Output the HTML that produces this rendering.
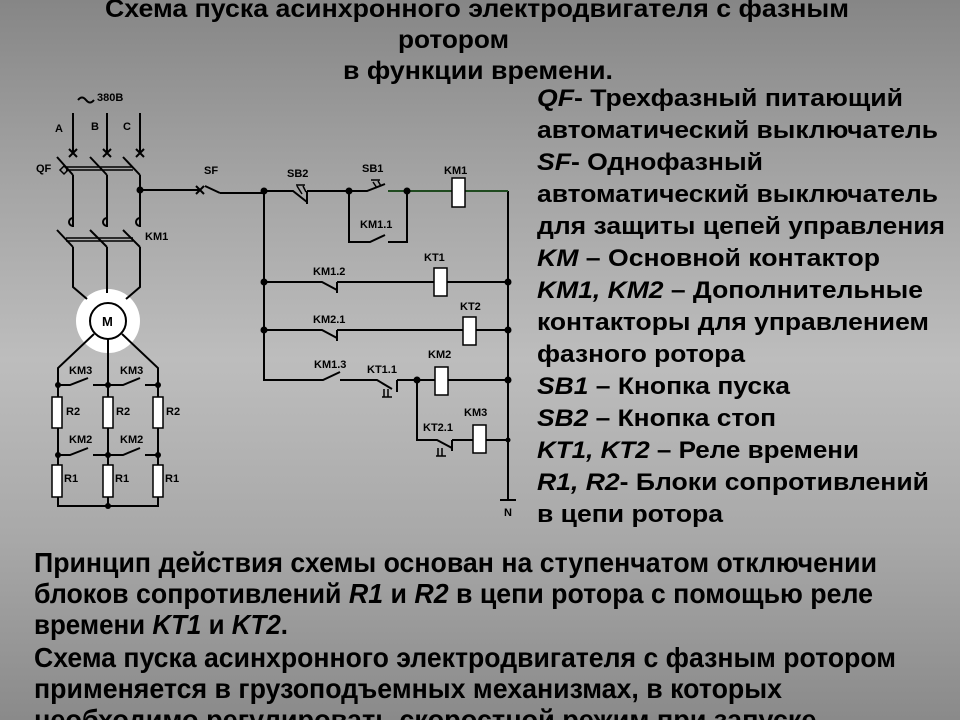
<!DOCTYPE html>
<html><head><meta charset="utf-8"><style>
html,body{margin:0;padding:0;width:960px;height:720px;overflow:hidden}
body{background:linear-gradient(to bottom,#868686 0%,#a4a4a4 25%,#bdbdbd 50%,#a8a8a8 75%,#8a8a8a 100%)}
svg{display:block}
.t{font-family:"Liberation Sans",sans-serif;font-weight:bold;fill:#000}
.s{font-family:"Liberation Sans",sans-serif;font-weight:bold;font-size:11px;fill:#000}
</style></head><body>
<svg width="960" height="720" viewBox="0 0 960 720" xmlns="http://www.w3.org/2000/svg">
<g class="t" font-size="25">
<text x="105" y="17" textLength="744" lengthAdjust="spacingAndGlyphs">Схема пуска асинхронного электродвигателя с фазным</text>
<text x="398" y="48" textLength="111" lengthAdjust="spacingAndGlyphs">ротором</text>
<text x="343" y="79" textLength="270" lengthAdjust="spacingAndGlyphs">в функции времени.</text>
</g>
<g class="t" font-size="24">
<text x="537" y="106" textLength="366" lengthAdjust="spacingAndGlyphs"><tspan font-style="italic">QF</tspan>- Трехфазный питающий</text>
<text x="537" y="138" textLength="401" lengthAdjust="spacingAndGlyphs">автоматический выключатель</text>
<text x="537" y="170" textLength="226" lengthAdjust="spacingAndGlyphs"><tspan font-style="italic">SF</tspan>- Однофазный</text>
<text x="537" y="202" textLength="401" lengthAdjust="spacingAndGlyphs">автоматический выключатель</text>
<text x="537" y="234" textLength="408" lengthAdjust="spacingAndGlyphs">для защиты цепей управления</text>
<text x="537" y="266" textLength="343" lengthAdjust="spacingAndGlyphs"><tspan font-style="italic">KM</tspan> – Основной контактор</text>
<text x="537" y="298" textLength="386" lengthAdjust="spacingAndGlyphs"><tspan font-style="italic">KM1, KM2</tspan> – Дополнительные</text>
<text x="537" y="330" textLength="392" lengthAdjust="spacingAndGlyphs">контакторы для управлением</text>
<text x="537" y="362" textLength="208" lengthAdjust="spacingAndGlyphs">фазного ротора</text>
<text x="537" y="394" textLength="253" lengthAdjust="spacingAndGlyphs"><tspan font-style="italic">SB1</tspan> – Кнопка пуска</text>
<text x="537" y="426" textLength="239" lengthAdjust="spacingAndGlyphs"><tspan font-style="italic">SB2</tspan> – Кнопка стоп</text>
<text x="537" y="458" textLength="322" lengthAdjust="spacingAndGlyphs"><tspan font-style="italic">KT1, KT2</tspan> – Реле времени</text>
<text x="537" y="490" textLength="392" lengthAdjust="spacingAndGlyphs"><tspan font-style="italic">R1, R2</tspan>- Блоки сопротивлений</text>
<text x="537" y="522" textLength="186" lengthAdjust="spacingAndGlyphs">в цепи ротора</text>
</g>
<g class="t" font-size="28">
<text x="34" y="572" textLength="843" lengthAdjust="spacingAndGlyphs">Принцип действия схемы основан на ступенчатом отключении</text>
<text x="34" y="603" textLength="839" lengthAdjust="spacingAndGlyphs">блоков сопротивлений <tspan font-style="italic">R1</tspan> и <tspan font-style="italic">R2</tspan> в цепи ротора с помощью реле</text>
<text x="34" y="634" textLength="254" lengthAdjust="spacingAndGlyphs">времени <tspan font-style="italic">KT1</tspan> и <tspan font-style="italic">KT2</tspan>.</text>
<text x="34" y="667" textLength="862" lengthAdjust="spacingAndGlyphs">Схема пуска асинхронного электродвигателя с фазным ротором</text>
<text x="34" y="698" textLength="748" lengthAdjust="spacingAndGlyphs">применяется в грузоподъемных механизмах, в которых</text>
<text x="34" y="729" textLength="790" lengthAdjust="spacingAndGlyphs">необходимо регулировать скоростной режим при запуске.</text>
</g>

<circle cx="108" cy="321" r="32" fill="#fff"/>
<g stroke="#000" stroke-width="2" fill="none">
<path d="M73 113V153M107 113V153M140 113V153"/>
<path d="M69 149l8 8M77 149l-8 8M103 149l8 8M111 149l-8 8M136 149l8 8M144 149l-8 8"/>
<path d="M57 157L73 175M90 157L107 175M123 157L140 175"/>
<path d="M66 167H133M66 170H133" stroke-width="1.5"/>
<path d="M73 175V227M107 175V227M140 175V227"/>
<path d="M73 218a4 4 0 0 0 0 8M107 218a4 4 0 0 0 0 8M140 218a4 4 0 0 0 0 8"/>
<path d="M57 230L73 247M90 230L107 247M123 230L140 247"/>
<path d="M66 238H133M66 241H133" stroke-width="1.5"/>
<path d="M73 247V287L87 299M107 247V293M140 247V287L126 299"/>
<path d="M140 190H200M196 186l8 8M204 186l-8 8M205 186L220 193M220 193H264"/>
<path d="M94 334L58 368V506H158V368L122 334M108 339V506"/>
<path d="M58 385H70L88 378M93 385H123L140 378M145 385H158"/>
<path d="M58 455H70L88 448M93 455H123L140 448M145 455H158"/>
</g>
<path d="M60 170l4-4 4 4-4 4z" fill="none" stroke="#000" stroke-width="1.5"/>
<path d="M78 100q4-5 8 0t8 0" fill="none" stroke="#000" stroke-width="2"/>
<g fill="#fff" stroke="#000" stroke-width="1.5">
<circle cx="108" cy="321" r="18" stroke-width="2"/>
<rect x="52" y="397" width="10" height="31"/><rect x="103" y="397" width="10" height="31"/><rect x="153" y="397" width="10" height="31"/>
<rect x="52" y="465" width="10" height="32"/><rect x="103" y="465" width="10" height="32"/><rect x="153" y="465" width="10" height="32"/>
</g>
<g fill="#000">
<circle cx="140" cy="190" r="3.5"/>
<circle cx="58" cy="385" r="3"/><circle cx="108" cy="385" r="3"/><circle cx="158" cy="385" r="3"/>
<circle cx="58" cy="455" r="3"/><circle cx="108" cy="455" r="3"/><circle cx="158" cy="455" r="3"/>
<circle cx="108" cy="506" r="3"/>
</g>
<g class="s">
<text x="97" y="101">380B</text>
<text x="55" y="132">A</text><text x="91" y="130">B</text><text x="123" y="130">C</text>
<text x="36" y="172">QF</text><text x="145" y="240">KM1</text>
<text x="102" y="326" font-size="13">M</text>
<text x="69" y="374">KM3</text><text x="120" y="374">KM3</text>
<text x="66" y="415">R2</text><text x="116" y="415">R2</text><text x="166" y="415">R2</text>
<text x="69" y="443">KM2</text><text x="120" y="443">KM2</text>
<text x="64" y="482">R1</text><text x="115" y="482">R1</text><text x="165" y="482">R1</text>
<text x="204" y="174">SF</text>
</g>

<g stroke="#000" stroke-width="2" fill="none">
<path d="M264 191H293L307 202M307 191V204M307 191H367L385 184"/>
<path d="M297 186L302 194M303 186L306 192M296 185H305" stroke-width="1.5"/>
<path d="M373 182L377 188M378 181L381 186M371 180H380" stroke-width="1.5"/>
<path d="M508 191V500M500 500H516"/>
<path d="M349 191V242H370L385 235M388 242H407V191"/>
<path d="M264 191V380H323L340 372M340 380H377L392 389M397 380V392M397 380H435"/>
<path d="M264 282H322L337 290M337 282V293M337 282H434M447 282H508"/>
<path d="M264 330H322L337 338M337 330V341M337 330H463M476 330H508"/>
<path d="M448 380H508"/>
<path d="M417 380V440H437L452 448M452 440V451M452 440H473M486 440H508"/>
<path d="M384 389V397M388 389V397M382 397H392M438 448V456M442 448V456M436 456H446" stroke-width="1.5"/>
</g>
<path d="M388 191H452M465 191H508" stroke="#1f4a1f" stroke-width="2"/>
<g fill="#fff" stroke="#000" stroke-width="1.5">
<rect x="452" y="178" width="13" height="29"/>
<rect x="434" y="268" width="13" height="28"/>
<rect x="463" y="317" width="13" height="28"/>
<rect x="435" y="367" width="13" height="28"/>
<rect x="473" y="425" width="13" height="28"/>
</g>
<g fill="#000">
<circle cx="264" cy="191" r="3.5"/><circle cx="349" cy="191" r="3.5"/><circle cx="407" cy="191" r="3.5"/>
<circle cx="264" cy="282" r="3.5"/><circle cx="264" cy="330" r="3.5"/>
<circle cx="508" cy="282" r="3.5"/><circle cx="508" cy="330" r="3.5"/><circle cx="508" cy="380" r="3.5"/><circle cx="508" cy="440" r="2.5"/>
<circle cx="417" cy="380" r="3.5"/>
</g>
<g class="s">
<text x="287" y="177">SB2</text><text x="362" y="172">SB1</text><text x="444" y="174">KM1</text>
<text x="360" y="228">KM1.1</text>
<text x="313" y="275">KM1.2</text><text x="424" y="261">KT1</text>
<text x="313" y="323">KM2.1</text><text x="460" y="310">KT2</text>
<text x="314" y="368">KM1.3</text><text x="367" y="373">KT1.1</text><text x="428" y="358">KM2</text>
<text x="464" y="416">KM3</text><text x="423" y="431">KT2.1</text>
<text x="504" y="516">N</text>
</g>
</svg>
</body></html>
